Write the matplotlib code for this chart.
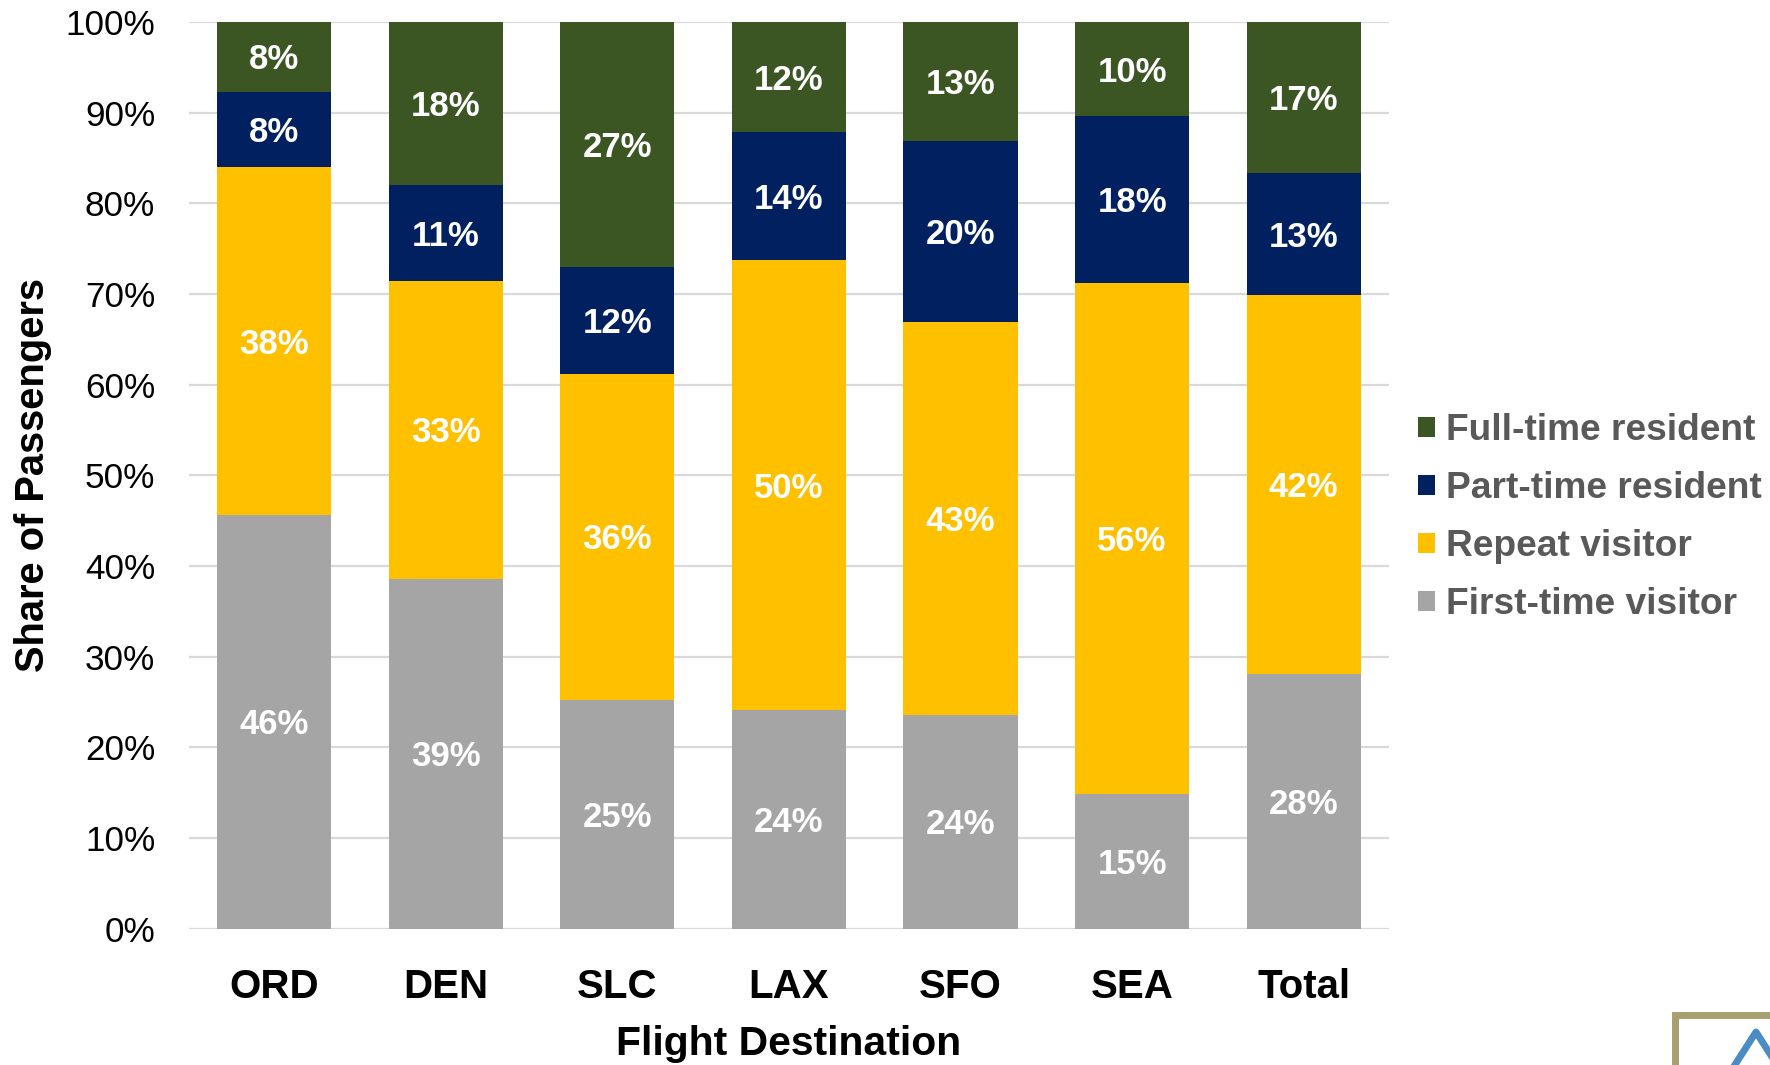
import matplotlib
matplotlib.use("Agg")
import matplotlib.pyplot as plt
from matplotlib.patches import Rectangle
from matplotlib.lines import Line2D
import numpy as np

plt.rcParams['font.family'] = ['Liberation Sans', 'DejaVu Sans']

categories = ["ORD", "DEN", "SLC", "LAX", "SFO", "SEA", "Total"]
first_time = [45.6, 38.6, 25.2, 24.1, 23.6, 14.8, 28.1]
repeat = [38.4, 32.8, 36.0, 49.6, 43.3, 56.4, 41.8]
part_time = [8.3, 10.6, 11.8, 14.1, 20.0, 18.4, 13.4]
full_time = [7.7, 18.0, 27.0, 12.2, 13.1, 10.4, 16.7]
series_names = ["First-time visitor", "Repeat visitor", "Part-time resident", "Full-time resident"]
colors = ["#a5a5a5", "#ffc000", "#002060", "#3b5623"]
yticks = [0, 10, 20, 30, 40, 50, 60, 70, 80, 90, 100]

fig = plt.figure(figsize=(17.7, 10.65), dpi=100)
ax = fig.add_axes([0.1065, 0.128, 0.6785, 0.8515])

x = np.arange(len(categories))
bottom = np.zeros(len(categories))
handles = []
for vals, name, col in zip([first_time, repeat, part_time, full_time], series_names, colors):
    vals = np.array(vals)
    bars = ax.bar(x, vals, width=0.665, bottom=bottom, color=col, label=name, zorder=3)
    anns = ax.bar_label(bars, labels=[f"{v:.0f}%" for v in vals], label_type='center',
                        color='white', fontsize=25, fontweight='bold')
    for a in anns:
        a.xyann = (0, -2.2)
    bottom += vals
    handles.append(bars)

ax.set_xlim(-0.5, len(categories) - 0.5)
ax.set_ylim(0, 100)
ax.set_yticks(yticks)
ax.set_yticklabels([f"{t}%" for t in yticks], fontsize=25.3)
ax.set_xticks(x)
ax.set_xticklabels(categories, fontsize=29, fontweight='bold')
ax.tick_params(axis='both', length=0)
ax.tick_params(axis='x', pad=28)
ax.tick_params(axis='y', pad=24)
for s in ax.spines.values():
    s.set_visible(False)
ax.grid(axis='y', color='#d9d9d9', linewidth=1.6, zorder=0)
ax.set_axisbelow(True)
ax.set_xlabel("Flight Destination", fontsize=29.4, fontweight='bold', labelpad=14)
ax.set_ylabel("Share of Passengers", fontsize=28.7, fontweight='bold')
ax.yaxis.set_label_coords(-0.114, 0.5)

leg = ax.legend(handles[::-1], series_names[::-1], loc='center left',
                bbox_to_anchor=(0.7905, 0.5137), bbox_transform=fig.transFigure,
                frameon=False, prop={'weight': 'bold', 'size': 26.7},
                handlelength=0.46, handleheight=0.46, handletextpad=0.3,
                labelspacing=0.62, borderpad=0)
for t in leg.get_texts():
    t.set_color('#595959')

# partial logo in bottom-right corner
fig.patches.append(Rectangle((1675 / 1770, -0.05), 0.2, 0.097,
                             transform=fig.transFigure, fill=False,
                             edgecolor='#a8a070', linewidth=5))
fig.lines.append(Line2D([1728 / 1770, 1756 / 1770, 1784 / 1770],
                        [-0.01, 33 / 1065, -0.01], transform=fig.transFigure,
                        color='#4a8cc4', linewidth=5))

fig.savefig("out.png", dpi=100)
